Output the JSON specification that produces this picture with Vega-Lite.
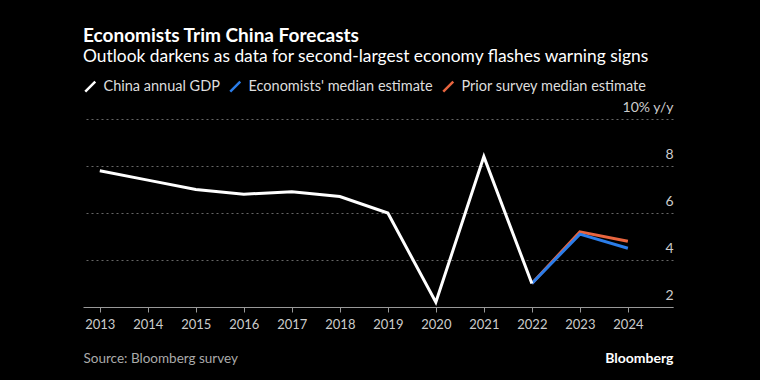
{
  "$schema": "https://vega.github.io/schema/vega-lite/v6.json",
  "width": 590,
  "height": 188,
  "autosize": {"type": "none"},
  "padding": {"left": 83, "top": 119, "right": 87, "bottom": 73},
  "background": "#000000",
  "title": {
    "text": "Economists Trim China Forecasts",
    "subtitle": "Outlook darkens as data for second-largest economy flashes warning signs",
    "anchor": "start",
    "frame": "group",
    "font": "Lato",
    "fontSize": 19,
    "fontWeight": "bold",
    "color": "#ffffff",
    "subtitleFont": "Lato",
    "subtitleFontSize": 17.4,
    "subtitleColor": "#ffffff",
    "subtitlePadding": 2,
    "offset": 14
  },
  "config": {"view": {"stroke": null}, "font": "Lato"},
  "data": {
    "values": [
      {"year": 2013, "value": 7.8, "series": "China annual GDP"},
      {"year": 2014, "value": 7.4, "series": "China annual GDP"},
      {"year": 2015, "value": 7.0, "series": "China annual GDP"},
      {"year": 2016, "value": 6.8, "series": "China annual GDP"},
      {"year": 2017, "value": 6.9, "series": "China annual GDP"},
      {"year": 2018, "value": 6.7, "series": "China annual GDP"},
      {"year": 2019, "value": 6.0, "series": "China annual GDP"},
      {"year": 2020, "value": 2.2, "series": "China annual GDP"},
      {"year": 2021, "value": 8.4, "series": "China annual GDP"},
      {"year": 2022, "value": 3.0, "series": "China annual GDP"},
      {"year": 2022, "value": 3.0, "series": "Economists' median estimate"},
      {"year": 2023, "value": 5.1, "series": "Economists' median estimate"},
      {"year": 2024, "value": 4.5, "series": "Economists' median estimate"},
      {"year": 2022, "value": 3.0, "series": "Prior survey median estimate"},
      {"year": 2023, "value": 5.2, "series": "Prior survey median estimate"},
      {"year": 2024, "value": 4.8, "series": "Prior survey median estimate"}
    ]
  },
  "encoding": {
    "x": {
      "field": "year",
      "type": "quantitative",
      "scale": {"domain": [2012.65, 2024.94], "nice": false, "zero": false},
      "axis": {
        "values": [2013, 2014, 2015, 2016, 2017, 2018, 2019, 2020, 2021, 2022, 2023, 2024],
        "format": "d",
        "grid": false,
        "zindex": 1,
        "domainColor": "#999999",
        "tickColor": "#999999",
        "tickSize": 5,
        "labelColor": "#cccccc",
        "labelFont": "Lato",
        "labelFontSize": 13,
        "labelPadding": 6,
        "labelFlush": false,
        "title": "Source: Bloomberg survey",
        "titleAnchor": "start",
        "titleAlign": "left",
        "titleX": 0,
        "titleY": 55,
        "titleBaseline": "alphabetic",
        "titleFont": "Lato",
        "titleFontSize": 13.5,
        "titleFontWeight": "normal",
        "titleColor": "#aaaaaa"
      }
    },
    "y": {
      "field": "value",
      "type": "quantitative",
      "scale": {"domain": [2, 10], "nice": false, "zero": false},
      "axis": {
        "orient": "right",
        "values": [2, 4, 6, 8, 10],
        "labelExpr": "datum.value == 10 ? '10% y/y' : datum.label",
        "domain": false,
        "ticks": false,
        "grid": true,
        "gridColor": "#666666",
        "gridDash": [2, 3],
        "labelAlign": "right",
        "labelPadding": 0,
        "labelBaseline": "alphabetic",
        "labelOffset": -8,
        "labelColor": "#cccccc",
        "labelFont": "Lato",
        "labelFontSize": 14,
        "title": "Bloomberg",
        "titleAngle": 0,
        "titleX": 0,
        "titleY": 243,
        "titleAlign": "right",
        "titleBaseline": "alphabetic",
        "titleFont": "Lato",
        "titleFontSize": 14,
        "titleFontWeight": "bold",
        "titleColor": "#ffffff"
      }
    },
    "color": {
      "field": "series",
      "type": "nominal",
      "scale": {
        "domain": ["China annual GDP", "Economists' median estimate", "Prior survey median estimate"],
        "range": ["#ffffff", "#2b7de9", "#e8653f"]
      },
      "legend": {
        "orient": "none",
        "legendX": 0,
        "legendY": -40,
        "direction": "horizontal",
        "title": null,
        "labelColor": "#dddddd",
        "labelFont": "Lato",
        "labelFontSize": 14.5,
        "labelLimit": 400,
        "labelOffset": 6,
        "columnPadding": 5,
        "symbolType": "M-1,1L1,-1",
        "symbolSize": 100,
        "symbolStrokeWidth": 2.5
      }
    }
  },
  "layer": [
    {
      "transform": [{"filter": "datum.series == 'Prior survey median estimate'"}],
      "mark": {"type": "line", "strokeWidth": 3}
    },
    {
      "transform": [{"filter": "datum.series == \"Economists' median estimate\""}],
      "mark": {"type": "line", "strokeWidth": 3}
    },
    {
      "transform": [{"filter": "datum.series == 'China annual GDP'"}],
      "mark": {"type": "line", "strokeWidth": 3}
    }
  ]
}
